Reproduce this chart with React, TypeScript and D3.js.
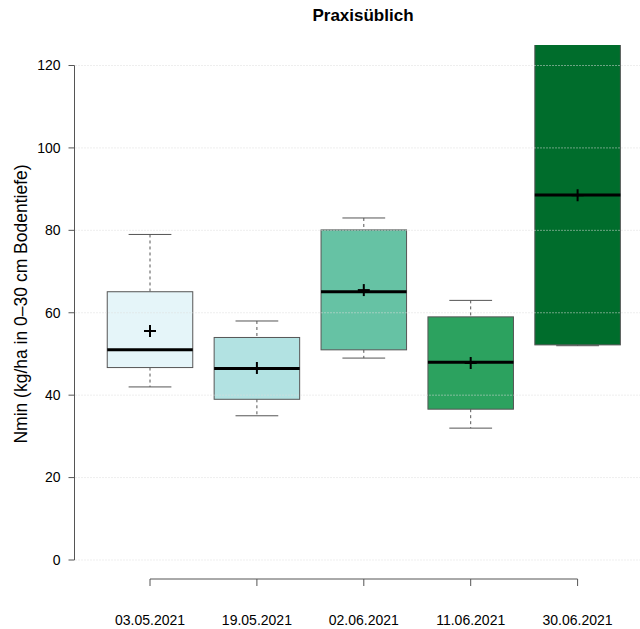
import React from "react";
import * as d3 from "d3";

const dates = ["03.05.2021", "19.05.2021", "02.06.2021", "11.06.2021", "30.06.2021"];
const whiskerLow = [42, 35, 49, 32, 52];
const q1 = [46.7, 39, 51, 36.6, 52.2];
const median = [51, 46.5, 65.1, 48, 88.6];
const q3 = [65.1, 54, 80.1, 59, 140];
const whiskerHigh = [79, 58, 83, 63, 160];
const means = [55.6, 46.6, 65.5, 47.8, 88.5];
const fills = ["#e5f5f9", "#b2e2e2", "#66c2a4", "#2ca25f", "#006d2c"];
const yTicks = [0, 20, 40, 60, 80, 100, 120];

const W = 640;
const H = 629;
const FONT = "'Liberation Sans', Arial, Helvetica, sans-serif";

export default function App() {
  const y = d3.scaleLinear().domain([0, 120]).range([560, 65.5]);
  const x = d3.scalePoint<string>().domain(dates).range([150, 577.6]);
  const step = x.step();
  const boxW = step * 0.8;
  const capW = boxW / 2;
  const axisX = 74.5;
  const plotTop = 45;

  return (
    <svg width={W} height={H} style={{ position: "absolute", left: 0, top: 0, background: "#fff" }} fontFamily={FONT}>
      <defs>
        <clipPath id="plot">
          <rect x={axisX} y={plotTop} width={W - axisX} height={579 - plotTop} />
        </clipPath>
      </defs>
      <text x={363} y={21} textAnchor="middle" fontWeight="bold" fontSize={17} fill="#000">
        Praxisüblich
      </text>

      <g clipPath="url(#plot)">
        {dates.map((d, i) => {
          const cx = x(d)!;
          return (
            <g key={d}>
              <line x1={cx} x2={cx} y1={y(whiskerHigh[i])} y2={y(q3[i])} stroke="#555" strokeDasharray="3,3" />
              <line x1={cx} x2={cx} y1={y(q1[i])} y2={y(whiskerLow[i])} stroke="#555" strokeDasharray="3,3" />
              <line x1={cx - capW / 2} x2={cx + capW / 2} y1={y(whiskerHigh[i])} y2={y(whiskerHigh[i])} stroke="#555" />
              <line x1={cx - capW / 2} x2={cx + capW / 2} y1={y(whiskerLow[i])} y2={y(whiskerLow[i])} stroke="#555" />
              <rect
                x={cx - boxW / 2}
                y={y(q3[i])}
                width={boxW}
                height={y(q1[i]) - y(q3[i])}
                fill={fills[i]}
                stroke="#555"
                strokeWidth={1}
              />
            </g>
          );
        })}
        {yTicks.map((t) => (
          <line key={t} x1={axisX + 1} x2={W} y1={y(t)} y2={y(t)} stroke="#ddd" strokeDasharray="1,2" strokeWidth={1} />
        ))}
        {dates.map((d, i) => {
          const cx = x(d)!;
          const my = y(means[i]);
          return (
            <g key={d + "m"}>
              <line x1={cx - boxW / 2} x2={cx + boxW / 2} y1={y(median[i])} y2={y(median[i])} stroke="#000" strokeWidth={3} />
              <line x1={cx - 6} x2={cx + 6} y1={my} y2={my} stroke="#000" strokeWidth={2} />
              <line x1={cx} x2={cx} y1={my - 6} y2={my + 6} stroke="#000" strokeWidth={2} />
            </g>
          );
        })}
      </g>

      {/* y axis */}
      <line x1={axisX} x2={axisX} y1={y(0)} y2={y(120)} stroke="#555" />
      {yTicks.map((t) => (
        <g key={t}>
          <line x1={axisX - 6} x2={axisX} y1={y(t)} y2={y(t)} stroke="#555" />
          <text x={axisX - 14} y={y(t)} dy="0.35em" textAnchor="end" fontSize={14} fill="#000">
            {t}
          </text>
        </g>
      ))}
      <text
        transform={`translate(21, 304) rotate(-90)`}
        textAnchor="middle"
        dy="0.35em"
        fontSize={17.5}
        fill="#000"
      >
        Nmin (kg/ha in 0–30 cm Bodentiefe)
      </text>

      {/* x axis */}
      <line x1={x(dates[0])!} x2={x(dates[dates.length - 1])!} y1={579} y2={579} stroke="#555" />
      {dates.map((d) => (
        <g key={d + "t"}>
          <line x1={x(d)!} x2={x(d)!} y1={579} y2={586} stroke="#555" />
          <text x={x(d)!} y={625} textAnchor="middle" fontSize={14} fill="#000">
            {d}
          </text>
        </g>
      ))}
    </svg>
  );
}
